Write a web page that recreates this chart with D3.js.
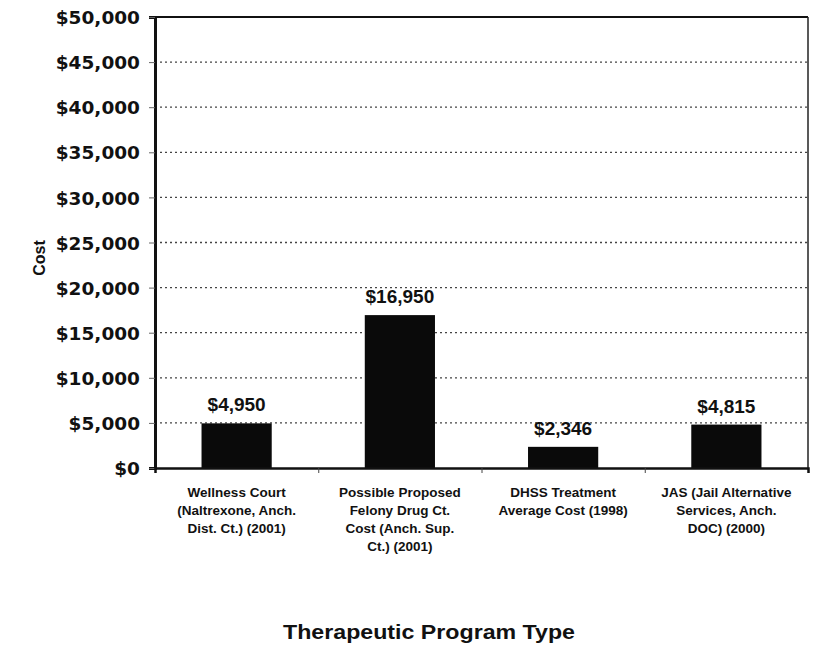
<!DOCTYPE html>
<html><head><meta charset="utf-8">
<script src="https://cdn.jsdelivr.net/npm/d3@7"></script>
<style>body{margin:0;background:#fff;} text{font-family:"Liberation Sans",Arial,sans-serif;font-weight:bold;fill:#111;}</style>
</head><body><svg id="c" width="822" height="648"></svg>
<script>
const categories = [
  ["Wellness Court", "(Naltrexone, Anch.", "Dist. Ct.) (2001)"],
  ["Possible Proposed", "Felony Drug Ct.", "Cost (Anch. Sup.", "Ct.) (2001)"],
  ["DHSS Treatment", "Average Cost (1998)"],
  ["JAS (Jail Alternative", "Services, Anch.", "DOC) (2000)"]
];
const values = [4950, 16950, 2346, 4815];
const valueLabels = ["$4,950", "$16,950", "$2,346", "$4,815"];
const yTicks = [0,5000,10000,15000,20000,25000,30000,35000,40000,45000,50000];

const svg = d3.select("#c");
const m = {l:155, r:808, t:17, b:468};
const x = d3.scaleBand().domain(d3.range(categories.length)).range([m.l, m.r]).paddingInner(0.57).paddingOuter(0.285);
const y = d3.scaleLinear().domain([0,50000]).range([m.b, m.t]);

// gridlines
svg.append("g").selectAll("line").data(yTicks.filter(d=>d>0 && d<50000)).join("line")
  .attr("x1", m.l).attr("x2", m.r).attr("y1", d=>y(d)).attr("y2", d=>y(d))
  .attr("stroke", "#444").attr("stroke-width", 1.3).attr("stroke-dasharray", "2,3");

// frame top & right
svg.append("line").attr("x1", m.l).attr("x2", m.r).attr("y1", m.t).attr("y2", m.t).attr("stroke","#111").attr("stroke-width",2);
svg.append("line").attr("x1", m.r).attr("x2", m.r).attr("y1", m.t).attr("y2", m.b).attr("stroke","#222").attr("stroke-width",1.5);

// bars
svg.append("g").selectAll("rect").data(values).join("rect")
  .attr("x", (d,i)=>x(i)).attr("width", x.bandwidth())
  .attr("y", d=>y(d)).attr("height", d=>m.b - y(d)).attr("fill", "#0a0a0a");

// value labels
svg.append("g").selectAll("text").data(values).join("text")
  .attr("x", (d,i)=>x(i)+x.bandwidth()/2).attr("y", d=>y(d)-12)
  .attr("text-anchor","middle").style("font-size","19px").text((d,i)=>valueLabels[i]);

// y axis
const yAxis = d3.axisLeft(y).tickValues(yTicks).tickSize(6).tickPadding(9)
  .tickFormat(d=>"$"+d3.format(",")(d));
const gy = svg.append("g").attr("transform",`translate(${m.l},0)`).call(yAxis);
gy.select(".domain").attr("stroke","#111").attr("stroke-width",3);
gy.selectAll(".tick line").attr("stroke","#666");
gy.selectAll(".tick text").style("font-size","18.5px").style("font-family","'DejaVu Sans',sans-serif").style("font-weight","bold").attr("fill","#111").attr("dy","0.36em");

// x axis
const xb = d3.scaleLinear().domain([0, categories.length]).range([m.l, m.r]);
const gx = svg.append("g").attr("transform",`translate(0,${m.b})`)
  .call(d3.axisBottom(xb).tickValues([1,2,3]).tickSize(5).tickFormat(""));
gx.select(".domain").attr("stroke","#111").attr("stroke-width",2.5);
gx.selectAll(".tick line").attr("stroke","#444");

// category labels
const cl = svg.append("g").selectAll("text").data(categories).join("text")
  .attr("text-anchor","middle").style("font-size","13.5px")
  .attr("transform",(d,i)=>`translate(${x(i)+x.bandwidth()/2},497)`);
cl.selectAll("tspan").data(d=>d).join("tspan")
  .attr("x",0).attr("dy",(d,j)=>j===0?0:18).text(d=>d);

// axis titles
svg.append("text").attr("x",429).attr("y",639).attr("text-anchor","middle").style("font-size","20px")
  .attr("textLength",292).attr("lengthAdjust","spacingAndGlyphs").attr("x",283).attr("text-anchor","start").text("Therapeutic Program Type");
svg.append("text").attr("transform","translate(45,258) rotate(-90)").attr("text-anchor","middle").style("font-size","16px").text("Cost");
</script></body></html>
